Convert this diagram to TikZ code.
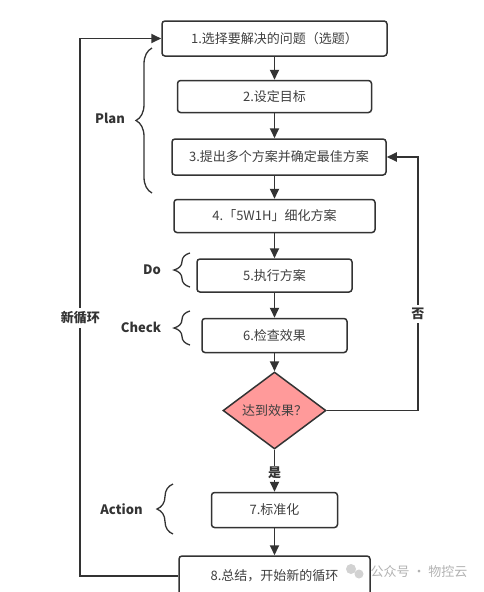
\documentclass[tikz,border=0pt]{standalone}
\usepackage{fontspec}
\setmainfont{Noto Sans CJK SC}
\usepackage{tikz}
\usetikzlibrary{shapes.geometric}
\usetikzlibrary{positioning,arrows.meta,decorations.pathreplacing}
\definecolor{linegray}{HTML}{333333}
\definecolor{textgray}{HTML}{404040}
\definecolor{diapink}{HTML}{FF9A9A}

\begin{document}
\begin{tikzpicture} [x=1pt,y=1pt,>={Triangle[length=10pt,width=9pt]},
    every node/.style={font=\fontsize{13}{15}\selectfont, text=textgray},
    box/.style={rectangle, draw=linegray, line width=1.5pt,
      rounded corners=3pt, fill=white, inner sep=0pt},
    decide/.style={diamond, draw=linegray, line width=1.5pt, fill=diapink,
      inner sep=0pt, minimum width=103pt, minimum height=67pt},
    con/.style={->, draw=linegray, line width=1.8pt},
    side/.style={font=\bfseries\fontsize{13}{15}\selectfont, text=linegray},
    brace/.style={decorate, decoration={brace,amplitude=16pt},
      draw=linegray, line width=1.3pt}
    ]
    \useasboundingbox (0,0) rectangle (484,-592);
    \node (n1) [box, minimum width=225pt, minimum height=35pt] at (274.5,-38.5)
      {1.选择要解决的问题（选题）};
    \node (n2) [box, minimum width=194pt, minimum height=32pt, below=23pt of n1]
      {2.设定目标};
    \node (n3) [box, minimum width=214pt, minimum height=36pt, below=25pt of n2, xshift=4.5pt]
      {3.提出多个方案并确定最佳方案};
    \node (n4) [box, minimum width=201pt, minimum height=33pt, below=23pt of n2 |- n3.south]
      {4.「5W1H」细化方案};
    \node (n5) [box, minimum width=155pt, minimum height=33pt, below=25pt of n4]
      {5.执行方案};
    \node (n6) [box, minimum width=145pt, minimum height=34pt, below=25pt of n5]
      {6.检查效果};
    \node (nd) [decide, below=18pt of n6] {达到效果？};
    \node (n7) [box, minimum width=126pt, minimum height=35pt, below=42pt of nd]
      {7.标准化};
    \node (n8) [box, minimum width=191pt, minimum height=40pt, below=27pt of n7]
      {8.总结，开始新的循环};

    % phase labels
    \node (plan) [side] at (110,-118) {Plan};
    \node (do) [side] at (152,-270) {Do};
    \node (check) [side] at (141,-327.5) {Check};
    \node (act) [side] at (121.5,-509) {Action};
    \draw [brace] (152,-193) -- (152,-48);
    \draw [brace] (190,-287) -- (190,-253);
    \draw [brace] (190,-345) -- (190,-311);
    \draw [brace] (173,-534) -- (173,-484);

    \draw [con] (n1) -- (n2);
    \draw [con] (n2) -- (n2 |- n3.north);
    \draw [con] (n2 |- n3.south) -- (n4);
    \draw [con] (n4) -- (n5);
    \draw [con] (n5) -- (n6);
    \draw [con] (n6) -- (nd);
    \draw [con] (nd) -- node[side, fill=white, pos=0.55, inner sep=1pt]{是} (n7);
    \draw [con] (n7) -- (n8);
    \draw [con] (nd.east) -- ++(91,0) |- node[side, fill=white, pos=0.19]{否} (n3.east);
    \draw [con] (n8.west) -- ++(-98,0) |- node[side, fill=white, pos=0.24]{新循环} (n1.west);

    % watermark
    \fill [gray!35] (351,-569) circle (5pt) (359,-574) circle (4.5pt);
    \node (wm) [text=gray!60, font=\fontsize{13}{15}\selectfont] at (419,-572) {公众号 · 物控云};
  \end{tikzpicture}
\end{document}
